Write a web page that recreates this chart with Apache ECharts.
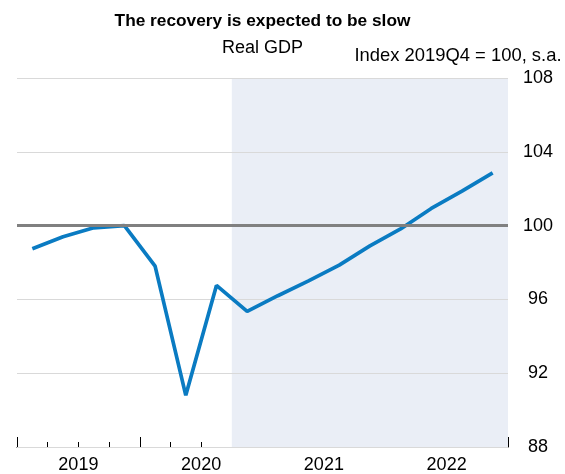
<!DOCTYPE html>
<html>
<head>
<meta charset="utf-8">
<script src="https://cdn.jsdelivr.net/npm/echarts@6/dist/echarts.min.js"></script>
<style>
html,body{margin:0;padding:0;background:#fff;}
#c{width:565px;height:474px;}
</style>
</head>
<body>
<div id="c"></div>
<script>
var quarters = ['2019Q1','2019Q2','2019Q3','2019Q4','2020Q1','2020Q2','2020Q3','2020Q4',
                '2021Q1','2021Q2','2021Q3','2021Q4','2022Q1','2022Q2','2022Q3','2022Q4'];
var realGDP = [98.75, 99.4, 99.88, 100.0, 97.8, 90.8, 96.76, 95.35,
               96.2, 97.0, 97.86, 98.9, 99.82, 100.93, 101.87, 102.86];
var years = ['2019','2020','2021','2022'];
var forecastStart = '2020Q4';
var baseline = 100;
var yMin = 88, yMax = 108, yStep = 4;
var titleText = 'The recovery is expected to be slow';
var subtitleText = 'Real GDP';
var unitText = 'Index 2019Q4 = 100, s.a.';

var FONT = 'Liberation Sans, Arial, Helvetica, sans-serif';
var chart = echarts.init(document.getElementById('c'), null, {renderer:'canvas'});
var n = quarters.length;
var fIdx = quarters.indexOf(forecastStart);
var lineData = realGDP.map(function(v,i){ return [i + 0.5, v]; });

var gridLeft = 17, gridRight = 57, W = 565;
var plotCenter = gridLeft + (W - gridLeft - gridRight) / 2;

chart.setOption({
  animation: false,
  backgroundColor: '#ffffff',
  textStyle: { fontFamily: FONT },
  graphic: [
    { type: 'text', x: plotCenter, y: 13, silent: true,
      style: { text: titleText, textAlign: 'center', textVerticalAlign: 'top',
        font: 'bold 17.3px ' + FONT, fill: '#000' } },
    { type: 'text', x: plotCenter, y: 39, silent: true,
      style: { text: subtitleText, textAlign: 'center', textVerticalAlign: 'top',
        font: '18px ' + FONT, fill: '#000' } },
    { type: 'text', x: 561.5, y: 47, silent: true,
      style: { text: unitText, textAlign: 'right', textVerticalAlign: 'top',
        font: '18.4px ' + FONT, fill: '#000' } }
  ],
  grid: { left: gridLeft, right: gridRight, top: 78, bottom: 24, containLabel: false },
  xAxis: [
    { type: 'value', position: 'bottom', min: 0, max: n, interval: 1,
      axisLine: { show: true, onZero: false, lineStyle: { color: '#000', width: 1 } },
      axisTick: { show: true, inside: true, length: 5, lineStyle: { color: '#000', width: 1 } },
      axisLabel: { show: false }, splitLine: { show: false } },
    { type: 'value', position: 'bottom', offset: 0, min: 0, max: n, interval: 4,
      axisLine: { show: false, onZero: false },
      axisTick: { show: true, inside: true, length: 10, lineStyle: { color: '#000', width: 1 } },
      axisLabel: { show: false }, splitLine: { show: false } },
    { type: 'value', position: 'bottom', offset: 0, min: 0, max: n, interval: 2,
      axisLine: { show: false, onZero: false }, axisTick: { show: false }, splitLine: { show: false },
      axisLabel: { show: true, margin: 9, fontSize: 18, color: '#000', fontFamily: FONT,
        formatter: function(v){ return (v % 4 === 2) ? years[(v - 2) / 4] : ''; } } }
  ],
  yAxis: {
    type: 'value', position: 'right', min: yMin, max: yMax, interval: yStep, z: 2,
    axisLine: { show: false }, axisTick: { show: false },
    splitLine: { show: true, lineStyle: { color: '#d9d9d9', width: 1 } },
    axisLabel: { margin: 30, align: 'center', fontSize: 18, color: '#000', fontFamily: FONT }
  },
  series: [
    { type: 'line', data: [], z: 1, silent: true,
      markArea: { silent: true, itemStyle: { color: '#eaeef6' },
        data: [[{ xAxis: fIdx }, { xAxis: n }]] } },
    { type: 'line', data: lineData, z: 3, symbol: 'none', smooth: false,
      lineStyle: { color: '#0a7bc2', width: 3.7 } },
    { type: 'line', data: [], z: 4, silent: true,
      markLine: { silent: true, symbol: ['none','none'], label: { show: false },
        lineStyle: { color: '#808080', width: 3, type: 'solid' },
        data: [{ yAxis: baseline }] } }
  ]
});
</script>
</body>
</html>
